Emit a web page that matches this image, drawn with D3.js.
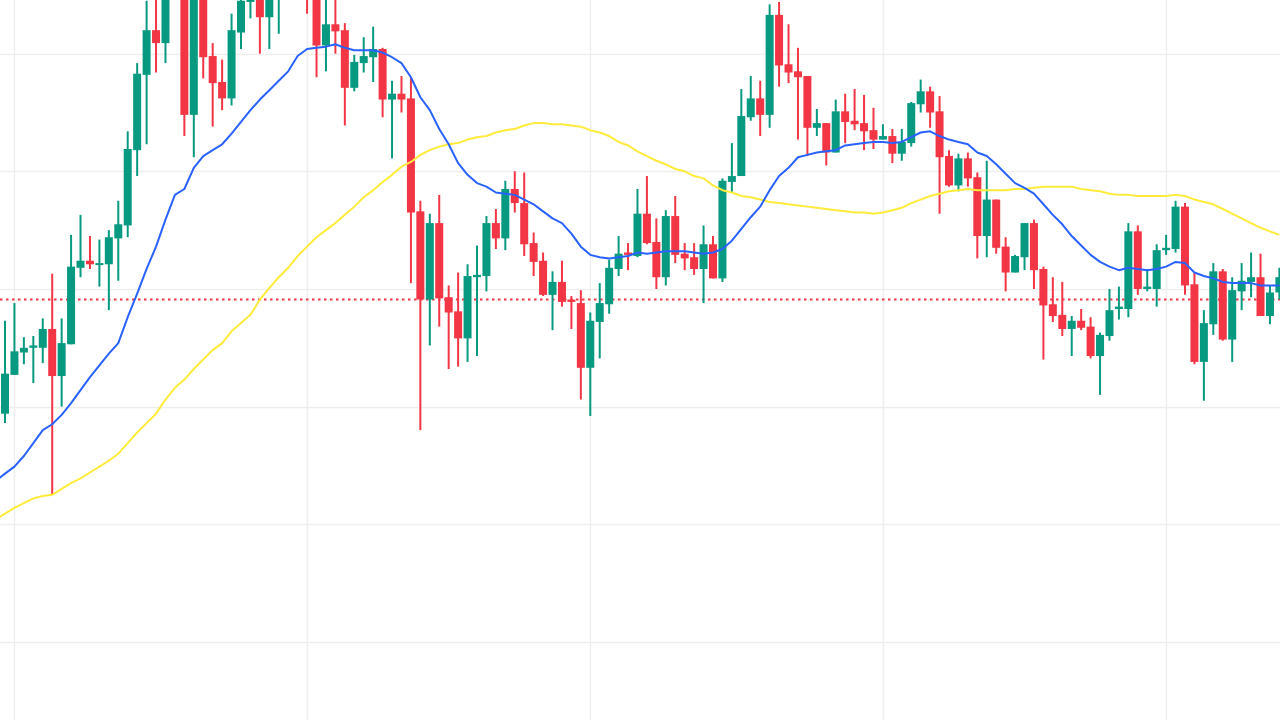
<!DOCTYPE html>
<html>
<head>
<meta charset="utf-8">
<script src="https://cdn.jsdelivr.net/npm/d3@7"></script>
<style>
  html, body { margin: 0; padding: 0; background: #ffffff; overflow: hidden; }
  svg { display: block; }
</style>
</head>
<body>
<svg id="chart" width="1280" height="720"></svg>
<script>
// ---- Data (daily candles) ----
const firstDay = "2023-07-31";
const openValues = [
  794,827,846,850,850,866,826,853,918,924, 921,921,943,954,1018,1082,1120,1109,1160,1170,
  1048,1158,1098,1076,1062,1118,1144,1152,1131,1155, 1170,1175,1168,1158,1107,1125,1120,1071,1092,1097,
  1104,1061,1066,1062,966,891,956,893,881,858, 910,911,956,943,985,973,939,924,895,906,
  891,888,833,872,887,917,931,928,964,940, 910,962,930,927,917,938,909,991,996,1046,
  1062,1048,1133,1091,1085,1081,1037,1041,1016,1051, 1043,1041,1035,1027,1030,1015,1024,1057,1068,1051,
  1013,988,1011,995,945,976,936,914,927,956, 917,887,878,866,873,868,843,860,883,883,
  949,900,900,933,934,970,904,838,870,915, 857,898,906,910,877,897
];
const highValues = [
  873,888,859,860,875,913,875,946,963,945, 942,950,975,1034,1092,1145,1155,1170,1185,1180,
  1172,1165,1109,1095,1134,1156,1162,1160,1165,1180, 1190,1185,1175,1165,1150,1150,1126,1099,1114,1123,
  1105,1077,1081,1080,975,964,980,903,914,921, 937,962,968,992,1000,999,948,931,915,924,
  894,899,880,905,925,945,939,985,996,960, 967,979,939,939,954,945,994,1024,1070,1081,
  1077,1142,1144,1125,1105,1081,1053,1041,1061,1066, 1070,1065,1054,1040,1036,1036,1059,1078,1072,1064,
  1018,1015,1016,999,1009,976,944,929,956,959, 919,910,906,877,883,876,863,900,902,956,
  954,917,938,946,975,973,914,882,922,917, 910,922,931,930,903,918
];
const lowValues = [
  786,827,836,820,837,725,800,853,910,917, 902,882,907,944,996,1023,1084,1092,1150,1030,
  1012,1079,1038,1052,1056,1104,1130,1100,1104,1117, 1155,1150,1134,1080,1085,1100,1039,1068,1084,1076,
  1046,1011,1050,905,780,852,868,832,834,838, 843,898,934,933,965,928,911,894,865,885,
  866,806,792,841,879,911,916,927,938,900, 903,922,916,912,888,909,906,982,996,1043,
  1030,1037,1072,1075,1027,1013,1030,1005,1016,1024, 1035,1018,1019,1027,1007,1009,1021,1050,1037,964,
  987,983,987,926,927,930,898,914,916,900, 840,872,860,843,865,841,810,856,874,876,
  895,898,885,929,931,895,836,805,861,856, 838,882,893,877,870,891
];
const closeValues = [
  828,847,850,852,866,826,854,919,924,921, 922,944,955,1019,1083,1120,1109,1160,1170,1048,
  1160,1097,1075,1062,1120,1145,1152,1131,1155,1170, 1175,1168,1158,1107,1125,1119,1071,1093,1098,1104,
  1061,1066,1061,965,891,956,892,880,858,911, 912,956,943,985,973,938,923,895,906,889,
  889,833,873,888,918,930,929,964,939,910, 962,929,926,917,938,909,992,996,1047,1062,
  1048,1133,1090,1084,1080,1037,1041,1016,1051,1042, 1040,1034,1027,1030,1015,1025,1058,1068,1050,1012,
  988,1011,994,945,976,935,914,928,956,916, 886,877,866,873,867,843,861,882,885,949,
  900,902,933,935,970,903,838,871,915,857, 899,907,910,877,897,910
];
// moving averages (blue = fast, yellow = slow), read per day; they start one day
// before the first visible candle so the lines reach the left edge
const maFirstDay = "2023-07-30";
const maFast = [
  737,
  743,749,758,769,780,785,793,803,814,825, 835,845,854,876,896,917,936,959,980,985,
  1003,1013,1018,1023,1032,1042,1052,1061,1069,1077, 1085,1098,1104,1105,1106,1108,1105,1103,1103,1103,
  1101,1097,1092,1080,1063,1052,1036,1023,1007,997, 990,987,982,981,980,976,972,966,960,956,
  947,936,929,927,926,927,928,931,930,931, 932,932,932,931,930,931,934,941,951,961,
  970,984,996,1003,1012,1014,1016,1017,1018,1022, 1023,1024,1025,1025,1024,1025,1029,1033,1034,1030,
  1027,1025,1023,1016,1013,1006,998,990,986,981, 972,963,955,945,937,929,923,919,916,918,
  917,916,917,919,923,922,914,911,909,906, 905,905,905,903,903,903
];
const maSlow = [
  704,
  709,714,718,722,724,725,730,735,739,744, 749,754,760,769,778,786,794,806,816,823,
  832,840,848,854,864,871,878,891,901,910, 918,928,936,944,950,956,963,970,978,984,
  991,997,1004,1008,1014,1018,1021,1023,1024,1027, 1029,1030,1033,1035,1036,1039,1041,1041,1040,1040,
  1039,1038,1035,1033,1030,1025,1022,1017,1013,1009, 1006,1002,1000,996,994,988,984,982,979,978,
  976,974,973,972,971,970,969,968,967,966, 965,965,964,965,967,969,973,976,979,981,
  983,984,985,984,984,984,984,985,985,986, 987,987,987,987,985,984,983,981,980,980,
  979,979,979,979,980,979,976,974,972,968, 964,960,956,952,949,946
];
const priceTicks = [600, 700, 800, 900, 1000, 1100];
const lastPrice = 891;

// ---- Build ----
const W = 1280, H = 720;
const parse = d3.utcParse("%Y-%m-%d");
const start = parse(firstDay);
const maStart = parse(maFirstDay);
const dates = openValues.map((_, i) => d3.utcDay.offset(start, i));
const candles = dates.map((d, i) => ({
  date: d, open: openValues[i], high: highValues[i], low: lowValues[i], close: closeValues[i]
}));
const maPoints = maFast.map((v, i) => ({ date: d3.utcDay.offset(maStart, i), fast: v, slow: maSlow[i] }));

const x = d3.scaleUtc().domain([dates[0], dates[dates.length - 1]]).range([5, 1279.4]);
const y = d3.scaleLinear().domain([600, 1100]).range([641.9, 53.7]);

const svg = d3.select("#chart");
svg.append("rect").attr("width", W).attr("height", H).attr("fill", "#ffffff");

const UP = "#089981", DOWN = "#F23645";

// grid
const grid = svg.append("g").attr("class", "grid");
grid.selectAll("line.h").data(priceTicks).join("line")
  .attr("class", "h")
  .attr("x1", 0).attr("x2", W)
  .attr("y1", d => Math.round(y(d)) + 0.5).attr("y2", d => Math.round(y(d)) + 0.5)
  .attr("stroke", "#eeeeee").attr("stroke-width", 1.5);
const monthStarts = d3.utcMonth.range(d3.utcMonth.ceil(dates[0]), d3.utcDay.offset(dates[dates.length - 1], 1));
grid.selectAll("line.v").data(monthStarts).join("line")
  .attr("class", "v")
  .attr("y1", 0).attr("y2", H)
  .attr("x1", d => Math.round(x(d)) + 0.5).attr("x2", d => Math.round(x(d)) + 0.5)
  .attr("stroke", "#eeeeee").attr("stroke-width", 1.5);

// price line
svg.append("line")
  .attr("x1", 0).attr("x2", W)
  .attr("y1", y(lastPrice)).attr("y2", y(lastPrice))
  .attr("stroke", DOWN).attr("stroke-width", 2)
  .attr("stroke-dasharray", "2.5,3.5");

// candles
const bodyW = 8;
const cg = svg.append("g").attr("class", "candles");
const c = cg.selectAll("g").data(candles).join("g");
c.append("line")
  .attr("x1", d => x(d.date)).attr("x2", d => x(d.date))
  .attr("y1", d => y(d.high)).attr("y2", d => y(d.low))
  .attr("stroke", d => d.close >= d.open ? UP : DOWN)
  .attr("stroke-width", 2);
c.append("rect")
  .attr("x", d => x(d.date) - bodyW / 2)
  .attr("width", bodyW)
  .attr("y", d => y(Math.max(d.open, d.close)))
  .attr("height", d => Math.max(2, Math.abs(y(d.open) - y(d.close))))
  .attr("fill", d => d.close >= d.open ? UP : DOWN);

// moving averages
const lineSlow = d3.line().x(d => x(d.date)).y(d => y(d.slow));
const lineFast = d3.line().x(d => x(d.date)).y(d => y(d.fast));
svg.append("path").datum(maPoints).attr("d", lineSlow)
  .attr("fill", "none").attr("stroke", "#FFEB3B").attr("stroke-width", 2)
  .attr("stroke-linejoin", "round");
svg.append("path").datum(maPoints).attr("d", lineFast)
  .attr("fill", "none").attr("stroke", "#2962FF").attr("stroke-width", 2)
  .attr("stroke-linejoin", "round");
</script>
</body>
</html>
